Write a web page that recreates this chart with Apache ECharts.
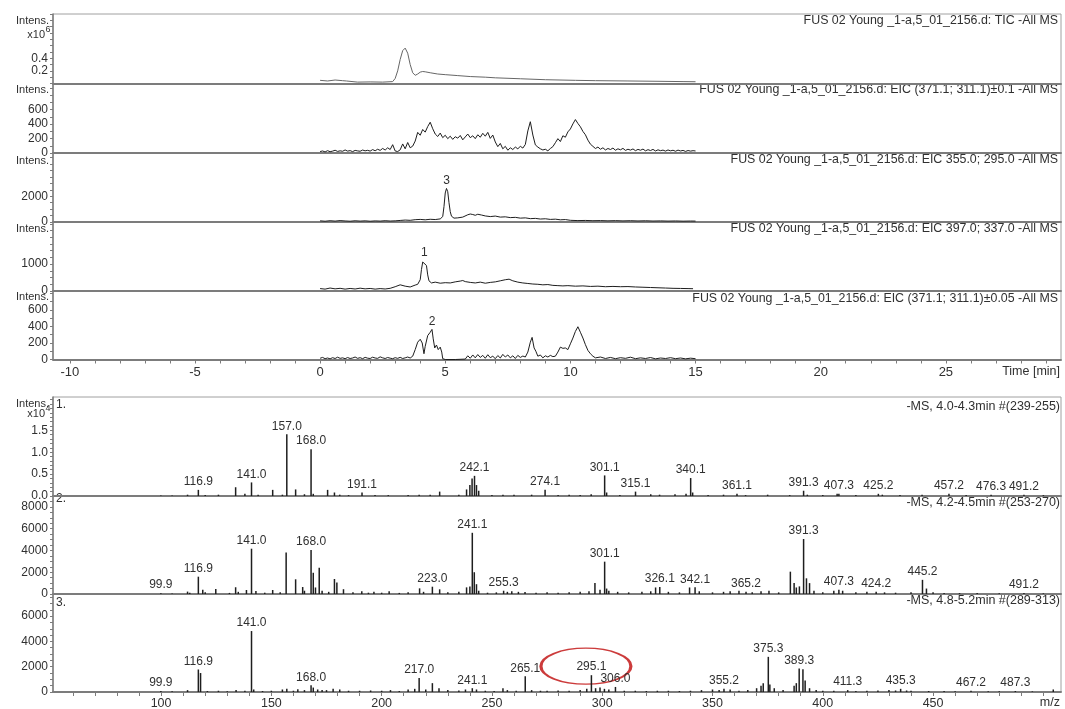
<!DOCTYPE html>
<html><head><meta charset="utf-8">
<script src="https://cdn.jsdelivr.net/npm/echarts@6/dist/echarts.min.js"></script>
<style>html,body{margin:0;padding:0;background:#fff}#c{width:1065px;height:709px}</style>
</head><body><div id="c"></div>
<script>
// ---------- chromatogram traces [time(min), intensity] ----------
const ticData = [[0,0.05],[0.3,0.04],[0.6,0.055],[0.9,0.045],[1.05,0.04],[1.1,0.025],[1.5,0.022],[2.0,0.025],[2.5,0.022],[2.9,0.03],[3.0,0.08],[3.1,0.2],[3.2,0.38],[3.3,0.52],[3.4,0.56],[3.5,0.48],[3.6,0.3],[3.7,0.17],[3.8,0.13],[3.9,0.15],[4.0,0.18],[4.1,0.19],[4.2,0.185],[4.4,0.17],[4.7,0.15],[5.0,0.14],[5.5,0.125],[6.0,0.11],[6.6,0.1],[7.0,0.09],[8.0,0.075],[9.0,0.06],[10.2,0.05],[11.0,0.045],[12.3,0.04],[13.5,0.035],[14.5,0.03],[15.0,0.028]];
const eicA = [[0,20],[0.1,28],[0.2,15],[0.3,32],[0.4,18],[0.5,26],[0.6,38],[0.7,22],[0.8,30],[0.9,24],[1.0,42],[1.1,26],[1.2,33],[1.3,19],[1.4,36],[1.5,29],[1.6,24],[1.7,41],[1.8,30],[1.9,37],[2.0,26],[2.1,47],[2.2,31],[2.3,52],[2.4,36],[2.5,63],[2.6,41],[2.7,72],[2.8,48],[2.9,115],[3.0,28],[3.1,20],[3.2,44],[3.3,125],[3.4,58],[3.5,145],[3.6,72],[3.7,95],[3.8,165],[3.9,285],[4.0,245],[4.1,325],[4.2,288],[4.3,365],[4.4,425],[4.5,335],[4.6,262],[4.7,228],[4.8,275],[4.9,212],[5.0,245],[5.1,198],[5.2,232],[5.3,188],[5.4,225],[5.5,205],[5.6,242],[5.7,182],[5.8,222],[5.9,262],[6.0,212],[6.1,238],[6.2,198],[6.3,252],[6.4,218],[6.5,272],[6.6,232],[6.7,285],[6.8,202],[6.9,248],[7.0,152],[7.1,88],[7.2,132],[7.3,58],[7.4,92],[7.5,38],[7.6,72],[7.7,48],[7.8,82],[7.9,58],[8.0,92],[8.1,68],[8.2,118],[8.3,305],[8.4,432],[8.5,248],[8.6,112],[8.7,82],[8.8,58],[8.9,42],[9.0,52],[9.1,30],[9.2,62],[9.3,88],[9.4,142],[9.5,198],[9.6,158],[9.7,238],[9.8,218],[9.9,292],[10.0,332],[10.1,402],[10.2,462],[10.3,408],[10.4,362],[10.5,298],[10.6,252],[10.7,178],[10.8,122],[10.9,92],[11.0,62],[11.1,82],[11.2,52],[11.3,72],[11.4,42],[11.5,62],[11.6,48],[11.7,68],[11.8,38],[11.9,58],[12.0,44],[12.1,64],[12.2,36],[12.3,52],[12.4,40],[12.5,56],[12.6,32],[12.7,50],[12.8,38],[12.9,54],[13.0,30],[13.1,46],[13.2,34],[13.3,50],[13.4,28],[13.5,44],[13.6,32],[13.7,40],[13.8,26],[13.9,42],[14.0,30],[14.1,38],[14.2,24],[14.3,40],[14.4,28],[14.5,36],[14.6,22],[14.7,34],[14.8,26],[14.9,32],[15.0,28]];
const eicB = [[0,90],[0.2,60],[0.4,100],[0.6,70],[0.8,110],[1.0,80],[1.2,60],[1.4,95],[1.6,70],[1.8,90],[2.0,60],[2.2,85],[2.4,70],[2.6,100],[2.8,75],[3.0,90],[3.2,120],[3.4,150],[3.6,130],[3.8,180],[4.0,200],[4.2,170],[4.4,210],[4.6,190],[4.8,240],[4.9,420],[4.95,1200],[5.0,2250],[5.05,2600],[5.1,2350],[5.15,1500],[5.2,800],[5.25,450],[5.35,300],[5.5,320],[5.7,380],[5.9,560],[6.0,620],[6.1,580],[6.2,520],[6.3,600],[6.45,540],[6.6,470],[6.8,420],[7.0,460],[7.2,380],[7.4,400],[7.6,340],[7.8,360],[8.0,300],[8.2,320],[8.4,260],[8.6,280],[8.8,230],[9.0,250],[9.2,200],[9.4,220],[9.6,170],[9.8,190],[10.0,130],[10.3,110],[10.6,120],[10.9,100],[11.2,110],[11.5,90],[11.8,105],[12.1,85],[12.4,100],[12.7,80],[13.0,95],[13.3,75],[13.6,85],[13.9,70],[14.2,80],[14.5,65],[14.8,75],[15.0,70]];
const eicC = [[0,90],[0.2,70],[0.4,110],[0.6,80],[0.8,100],[1.0,70],[1.2,95],[1.4,75],[1.6,105],[1.8,80],[2.0,95],[2.2,70],[2.4,90],[2.6,75],[2.8,100],[3.0,160],[3.2,230],[3.4,180],[3.6,150],[3.8,220],[3.9,250],[4.0,420],[4.05,800],[4.1,1080],[4.17,1150],[4.25,950],[4.3,600],[4.35,380],[4.45,300],[4.6,330],[4.8,290],[5.0,310],[5.2,300],[5.4,340],[5.6,370],[5.7,390],[5.8,350],[6.0,320],[6.2,300],[6.4,330],[6.6,290],[6.8,320],[7.0,340],[7.2,380],[7.4,420],[7.55,440],[7.7,380],[7.9,330],[8.1,300],[8.3,280],[8.5,260],[8.7,250],[8.9,230],[9.1,240],[9.3,210],[9.5,200],[9.7,190],[9.9,200],[10.2,180],[10.5,190],[10.8,170],[11.1,180],[11.4,160],[11.7,170],[12.0,160],[12.3,165],[12.6,150],[12.9,140],[13.2,130],[13.5,120],[13.8,110],[14.1,100],[14.4,95],[14.7,90],[14.9,85]];
const eicD = [[0,15],[0.1,25],[0.2,10],[0.3,18],[0.4,8],[0.5,22],[0.6,12],[0.7,28],[0.8,14],[0.9,20],[1.0,10],[1.1,24],[1.2,12],[1.3,18],[1.4,30],[1.5,14],[1.6,22],[1.7,10],[1.8,26],[1.9,16],[2.0,12],[2.1,28],[2.2,18],[2.3,14],[2.4,32],[2.5,20],[2.6,12],[2.7,24],[2.8,16],[2.9,10],[3.0,22],[3.1,14],[3.2,26],[3.3,12],[3.4,20],[3.5,30],[3.6,18],[3.7,40],[3.8,120],[3.9,210],[4.0,245],[4.08,200],[4.15,70],[4.2,160],[4.3,290],[4.4,330],[4.47,365],[4.52,250],[4.58,140],[4.65,175],[4.72,120],[4.8,150],[4.86,90],[4.9,10],[5.0,0],[5.4,0],[5.8,5],[5.9,45],[6.0,15],[6.1,55],[6.2,20],[6.3,60],[6.4,25],[6.5,50],[6.6,15],[6.7,58],[6.8,22],[6.9,40],[7.0,10],[7.1,48],[7.2,18],[7.3,62],[7.4,30],[7.5,55],[7.6,20],[7.7,45],[7.8,12],[7.9,50],[8.0,25],[8.1,42],[8.2,30],[8.3,90],[8.4,210],[8.47,268],[8.55,140],[8.62,100],[8.7,40],[8.8,55],[8.9,20],[9.0,45],[9.1,30],[9.2,50],[9.3,35],[9.4,40],[9.5,90],[9.6,150],[9.7,135],[9.8,140],[9.9,120],[10.0,190],[10.1,260],[10.2,340],[10.3,397],[10.4,330],[10.5,260],[10.6,180],[10.7,110],[10.8,70],[10.9,40],[11.0,20],[11.2,30],[11.4,12],[11.6,25],[11.8,10],[12.0,22],[12.2,14],[12.4,28],[12.6,10],[12.8,20],[13.0,12],[13.2,24],[13.4,8],[13.6,18],[13.8,12],[14.0,22],[14.2,10],[14.4,18],[14.6,8],[14.8,16],[15.0,10]];

const chromTitles = [
  'FUS 02 Young _1-a,5_01_2156.d: TIC -All MS',
  'FUS 02 Young _1-a,5_01_2156.d: EIC (371.1; 311.1)\u00b10.1 -All MS',
  'FUS 02 Young _1-a,5_01_2156.d: EIC 355.0; 295.0 -All MS',
  'FUS 02 Young _1-a,5_01_2156.d: EIC 397.0; 337.0 -All MS',
  'FUS 02 Young _1-a,5_01_2156.d: EIC (371.1; 311.1)\u00b10.05 -All MS'
];
const chromPeakNames = ['3', '1', '2'];
const chromPeakPanels = [2, 3, 4];
const chromPeakTimes = [5.05, 4.17, 4.47];
const chromPeakHeights = [2600, 1150, 365];

// ---------- mass spectra [m/z, intensity] ----------
const spec1Peaks = [[99.9,0.01],[105,0.01],[112,0.03],[116.9,0.14],[120,0.02],[126,0.03],[133.8,0.2],[138,0.05],[141.0,0.31],[144,0.03],[150.6,0.14],[155,0.03],[157.0,1.41],[161,0.15],[165,0.04],[168.0,1.07],[169,0.05],[175.5,0.14],[178.6,0.08],[181,0.03],[185,0.02],[191.1,0.08],[197,0.02],[203,0.02],[212,0.02],[217,0.03],[222,0.03],[226.3,0.1],[235,0.03],[238.5,0.15],[240,0.25],[241,0.4],[242.1,0.46],[243,0.25],[244,0.12],[250,0.02],[255,0.03],[260,0.03],[268,0.03],[274.1,0.14],[280,0.02],[285,0.03],[290,0.02],[295,0.04],[301.1,0.47],[302,0.08],[308,0.02],[315.1,0.1],[322,0.04],[326,0.03],[333,0.04],[338,0.05],[340.1,0.41],[341,0.08],[348,0.02],[355,0.03],[361.1,0.05],[365,0.02],[375,0.03],[385,0.02],[391.3,0.12],[393,0.03],[400,0.02],[406.5,0.05],[407.3,0.05],[415,0.02],[425.2,0.05],[427,0.03],[435,0.02],[445,0.03],[457.2,0.05],[465,0.02],[476.3,0.03],[491.2,0.03],[500,0.02]];
const spec2Peaks = [[99.9,80],[105,40],[112,220],[113,120],[116.9,1590],[118.9,380],[120,150],[124.8,460],[131,100],[133.8,620],[135,200],[138.7,370],[141.0,4160],[143,280],[147,120],[150.6,370],[154,150],[156.7,3820],[161,1350],[164.2,640],[165,300],[168.0,4030],[169,1950],[170,600],[171.7,2420],[173,300],[176,200],[178.6,1380],[179.7,1050],[182.7,440],[187,150],[191,250],[194,120],[196.5,200],[200,120],[203.4,250],[208,100],[212,150],[217.2,520],[219,200],[223.0,670],[226.3,430],[230,150],[235,200],[238.5,610],[240,700],[241.1,5620],[242,2000],[243,900],[244,300],[248,120],[252,150],[255.3,300],[257,200],[259,250],[262,200],[265,180],[270,120],[275,150],[280,120],[285,150],[290,200],[294,250],[296.7,1020],[299,400],[301.1,2970],[302,500],[303,300],[307,200],[312,150],[318,200],[322,250],[324.2,600],[326.1,650],[330,200],[335,150],[339.6,600],[342.1,620],[344,250],[350,150],[355,200],[358,250],[362,300],[365.2,200],[368,150],[372,250],[375.6,300],[380,150],[385.3,2050],[387,1000],[388,600],[389.4,700],[391.3,5050],[392.6,1440],[394,1000],[396,300],[400,150],[405,300],[407.3,400],[409,300],[415,150],[420,200],[424.2,200],[428,150],[433,120],[440,150],[445.2,1300],[447,500],[450,150],[455,100],[462,80],[470,100],[480,80],[491.2,100],[500,60]];
const spec3Peaks = [[99.9,80],[105,50],[112,150],[116.9,1780],[117.9,1500],[121,80],[126,100],[130,60],[134,150],[138,100],[141.0,4820],[142,200],[146,80],[150,100],[155,200],[157,250],[160,100],[162,220],[165,150],[168.0,530],[169,350],[171,200],[173,150],[175,150],[178,250],[181,200],[185,100],[190,100],[195,120],[200,100],[204,150],[208,80],[212,200],[215,250],[217.0,1100],[220,200],[223,700],[226,300],[230,150],[235,120],[238,200],[241.1,300],[243,200],[247,100],[251,80],[255,300],[257,150],[261,100],[265.1,1250],[268,150],[272,100],[275,100],[280,120],[285,100],[290,150],[293,250],[295.1,1330],[297,300],[299,350],[301,250],[303,200],[306.0,400],[310,100],[315,100],[320,80],[325,100],[330,100],[335,80],[340,100],[345,150],[350,200],[353,150],[355.2,250],[358,200],[362,100],[366,150],[370,300],[372,500],[373,700],[375.3,2780],[376,600],[378,300],[382,150],[387,500],[388,700],[389.3,1860],[391,1800],[392,900],[394,300],[397,150],[400,100],[405,100],[411.3,150],[415,80],[420,100],[425,120],[430,150],[433,120],[435.3,250],[438,120],[440,100],[448,80],[455,80],[460,60],[467.2,100],[475,60],[480,60],[487.3,80],[495,50],[504.5,200]];
const spec1Labeled = [116.9,141.0,157.0,168.0,191.1,242.1,274.1,301.1,315.1,340.1,361.1,391.3,407.3,425.2,457.2,476.3,491.2];
const spec2Labeled = [99.9,116.9,141.0,168.0,223.0,241.1,255.3,301.1,326.1,342.1,365.2,391.3,407.3,424.2,445.2,491.2];
const spec3Labeled = [99.9,116.9,141.0,168.0,217.0,241.1,265.1,295.1,306.0,355.2,375.3,389.3,411.3,435.3,467.2,487.3];
const specTitles = ['-MS, 4.0-4.3min #(239-255)', '-MS, 4.2-4.5min #(253-270)', '-MS, 4.8-5.2min #(289-313)'];
const specNames = ['1.', '2.', '3.'];
const circledPeak = [292.6, 2040];

// ---------- axis tick labels ----------
const timeLabels = [-10, -5, 0, 5, 10, 15, 20, 25];
const mzLabels = [100, 150, 200, 250, 300, 350, 400, 450];
const chromYLabels = [[0.2, 0.4], [0, 200, 400, 600], [0, 2000], [0, 1000], [0, 200, 400, 600]];
const chromYMax = [1.1, 960, 5350, 2570, 830];
const chromYTickStep = [0.1, 100, 500, 250, 100];
const specYLabels = [[0, 0.5, 1.0, 1.5], [0, 2000, 4000, 6000, 8000], [0, 2000, 4000, 6000]];
const specYMax = [2.26, 9000, 7750];
const specYTickStep = [0.1, 500, 500];

// ---------- layout / style ----------
function range(a, b, s) { const r = []; for (let v = a; v <= b + s * 1e-6; v += s) r.push(Math.round(v * 1000) / 1000); return r; }
const FONT = '"Liberation Sans", Arial, sans-serif';
const TXT = '#303030';
const AX = '#7c7c7c';
const chromEdges = [14, 83.5, 153, 222, 291, 359.5];
const specEdges = [397, 496, 594, 692];
const LEFT = 53, WIDTH = 1008;

const grids = [], xAxes = [], yAxes = [], series = [];
const chromData = [ticData, eicA, eicB, eicC, eicD];
for (let i = 0; i < 5; i++) {
  grids.push({left: LEFT, top: chromEdges[i], width: WIDTH, height: chromEdges[i+1] - chromEdges[i], show: true, borderColor: '#a0a0a0', borderWidth: 1, outerBoundsMode: 'none'});
  const bottom = i === 4;
  xAxes.push({type: 'value', gridIndex: i, min: -10.67, max: 29.6, splitLine: {show: false},
    axisLine: {show: true, onZero: false, lineStyle: {color: AX, width: 2}},
    axisTick: {show: bottom, length: 4, customValues: range(-10, 29, 1), lineStyle: {color: AX}},
    axisLabel: {show: bottom, customValues: timeLabels, margin: 6, fontSize: 13, fontFamily: FONT, color: TXT}});
  const isTic = i === 0;
  yAxes.push({type: 'value', gridIndex: i, min: 0, max: chromYMax[i], splitLine: {show: false},
    axisLine: {show: true, onZero: false, lineStyle: {color: AX, width: 1.5}},
    axisTick: {show: true, length: 3, customValues: range(0, chromYMax[i], chromYTickStep[i]), lineStyle: {color: AX}},
    axisLabel: {show: true, customValues: chromYLabels[i], margin: 5, fontSize: 12, hideOverlap: false, fontFamily: FONT, color: TXT,
      formatter: v => isTic ? v.toFixed(1) : String(v)}});
  const s = {type: 'line', xAxisIndex: i, yAxisIndex: i, data: chromData[i], showSymbol: false, symbol: 'none',
    lineStyle: {width: 1, color: isTic ? '#666' : '#1e1e1e'}, clip: true, silent: true};
  const mp = [];
  for (let k = 0; k < chromPeakNames.length; k++) {
    if (chromPeakPanels[k] === i) mp.push({name: chromPeakNames[k], coord: [chromPeakTimes[k], chromPeakHeights[k]]});
  }
  if (mp.length) s.markPoint = {symbol: 'circle', symbolSize: 1, itemStyle: {color: 'rgba(0,0,0,0)'},
    label: {show: true, position: 'top', distance: 1, formatter: '{b}', fontSize: 12, fontFamily: FONT, color: TXT}, data: mp};
  series.push(s);
}
const specPeaks = [spec1Peaks, spec2Peaks, spec3Peaks];
const specLabeled = [spec1Labeled, spec2Labeled, spec3Labeled];
for (let j = 0; j < 3; j++) {
  const gi = 5 + j;
  grids.push({left: LEFT, top: specEdges[j], width: WIDTH, height: specEdges[j+1] - specEdges[j], show: true, borderColor: '#a0a0a0', borderWidth: 1, outerBoundsMode: 'none'});
  const bottom = j === 2;
  xAxes.push({type: 'value', gridIndex: gi, min: 51, max: 508, splitLine: {show: false},
    axisLine: {show: true, onZero: false, lineStyle: {color: AX, width: 2}},
    axisTick: {show: bottom, length: 4, customValues: range(60, 500, 10), lineStyle: {color: AX}},
    axisLabel: {show: bottom, customValues: mzLabels, margin: 5, fontSize: 12.5, fontFamily: FONT, color: TXT}});
  const first = j === 0;
  yAxes.push({type: 'value', gridIndex: gi, min: 0, max: specYMax[j], splitLine: {show: false},
    axisLine: {show: true, onZero: false, lineStyle: {color: AX, width: 1.5}},
    axisTick: {show: true, length: 3, customValues: range(0, specYMax[j], specYTickStep[j]), lineStyle: {color: AX}},
    axisLabel: {show: true, customValues: specYLabels[j], margin: 5, fontSize: 12, hideOverlap: false, fontFamily: FONT, color: TXT,
      formatter: v => first ? v.toFixed(1) : String(v)}});
  const labs = specLabeled[j];
  series.push({type: 'bar', xAxisIndex: gi, yAxisIndex: gi, barWidth: 1.5, silent: true,
    itemStyle: {color: '#1e1e1e'},
    label: {show: false, position: 'top', distance: 2, fontSize: 12, fontFamily: FONT, color: TXT,
      formatter: p => p.value[0].toFixed(1)},
    data: specPeaks[j].map(p => {
      const lab = labs.some(m => Math.abs(m - p[0]) < 1e-6);
      return lab ? {value: p, label: {show: true}} : {value: p};
    })});
}

const chart = echarts.init(document.getElementById('c'));
chart.setOption({animation: false, backgroundColor: '#fff', grid: grids, xAxis: xAxes, yAxis: yAxes, series: series});

// ---------- texts ----------
function txt(x, y, text, align, size) {
  return {type: 'text', x: x, y: y, silent: true, style: {text: text, textAlign: align || 'left', textVerticalAlign: 'middle',
    fontSize: size || 12, fontFamily: FONT, fill: TXT}};
}
const g = [];
const intensY = [20.7, 90, 160.5, 228.5, 296.5];
intensY.forEach(y => g.push(txt(49, y, 'Intens.', 'right', 11)));
g.push(txt(45, 35, 'x10', 'right', 11));
g.push(txt(45.5, 30, '6', 'left', 9));
const titleY = [20.7, 90, 160, 228.5, 298.5];
chromTitles.forEach((t, i) => g.push(txt(1058, titleY[i], t, 'right', 12.4)));
g.push(txt(1060, 372, 'Time [min]', 'right', 12.5));
g.push(txt(49, 404, 'Intens.', 'right', 11));
g.push(txt(45, 414, 'x10', 'right', 11));
g.push(txt(45.5, 409, '4', 'left', 9));
const specTitleY = [406.5, 503, 601];
specTitles.forEach((t, j) => g.push(txt(1060, specTitleY[j], t, 'right', 12.5)));
const specNameY = [405, 499, 603];
specNames.forEach((t, j) => g.push(txt(56, specNameY[j], t, 'left', 12)));
g.push(txt(1060, 703, 'm/z', 'right', 12.5));
const c = chart.convertToPixel({xAxisIndex: 7, yAxisIndex: 7}, circledPeak);
g.push({type: 'circle', x: c[0], y: c[1], scaleX: 2.5, scaleY: 1, silent: true,
  shape: {cx: 0, cy: 0, r: 18}, style: {fill: 'none', stroke: '#cc3b3b', lineWidth: 1.3, strokeNoScale: true}});
chart.setOption({graphic: g});
</script>
</body></html>
